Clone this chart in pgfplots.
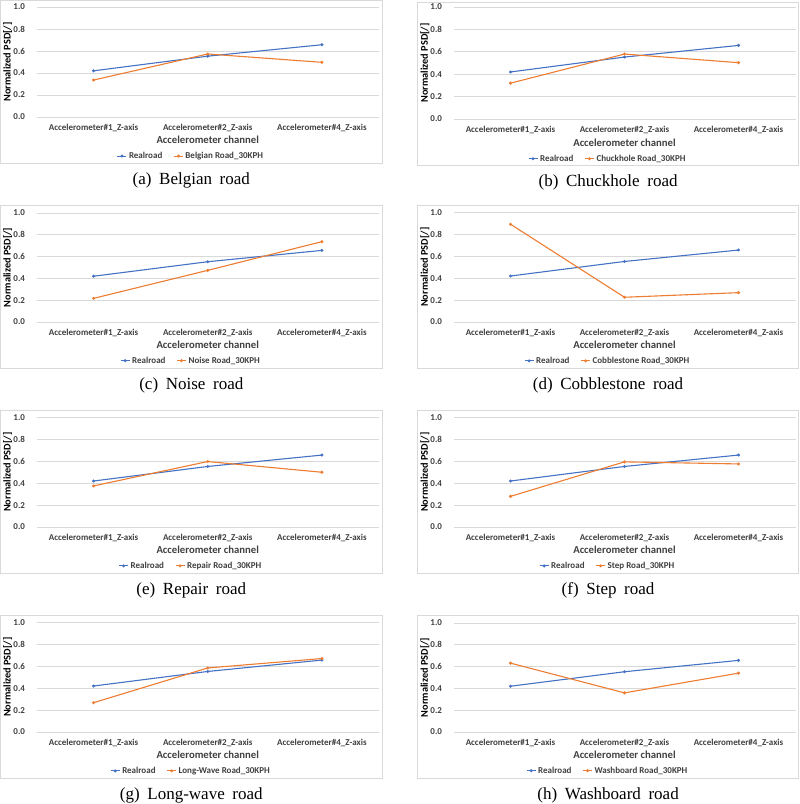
\documentclass[border=0pt]{standalone}
\usepackage{pgfplots}
\pgfplotsset{compat=1.18}
\usepackage{fontspec}
\setmainfont{Carlito}
\newfontfamily\capfont{Liberation Serif}
\definecolor{xblue}{HTML}{4472C4}
\definecolor{xorange}{HTML}{ED7D31}
\definecolor{xgrid}{HTML}{D9D9D9}
\definecolor{xtext}{HTML}{404040}
\pgfplotsset{
 psdpanel/.style={
  scale only axis, clip=false,
  xmin=-0.5, xmax=2.5, ymin=0, ymax=1,
  xtick={0,1,2},
  xticklabels={Accelerometer\#1\_Z-axis, Accelerometer\#2\_Z-axis, Accelerometer\#4\_Z-axis},
  ytick={0,0.2,0.4,0.6,0.8,1}, yticklabels={0.0,0.2,0.4,0.6,0.8,1.0},
  /pgf/number format/assume math mode=true,
  ymajorgrids, grid style={xgrid, line width=0.8pt},
  axis line style={draw=none},
  major tick length=0pt,
  tick label style={font=\fontsize{9}{10}\selectfont\bfseries, text=xtext},
  xticklabel style={anchor=base, yshift=-13.5pt},
  yticklabel style={anchor=east, xshift=-8pt},
  xlabel={Accelerometer channel},
  xlabel style={at={(axis description cs:0.5,-0.209)}, anchor=center, text=xtext, font=\fontsize{10.7}{12}\selectfont\bfseries},
  ylabel={Normalized PSD[/]},
  ylabel style={at={(axis description cs:-0.084,0.5)}, anchor=center, text=black, font=\fontsize{10.3}{12}\selectfont\bfseries},
  legend columns=2,
  legend style={at={(axis description cs:0.451,-0.355)}, anchor=center, draw=none, fill=none, text=xtext,
    font=\fontsize{9}{10}\selectfont\bfseries, inner sep=0pt,
    /tikz/every even column/.append style={column sep=9pt}},
  legend image code/.code={\draw[#1, mark repeat=2, mark phase=2] plot coordinates {(0pt,0pt) (4.5pt,0pt) (9pt,0pt)};},
 },
 ser/.style={line width=1.1pt, mark=*, mark size=0.9pt},
}
% #1 plot left, #2 y of 0.0 level, #3 width, #4 height, #5 series name, #6 coordinates, #7 letter, #8 caption
\newcommand{\panel}[8]{%
 \begin{axis}[psdpanel, at={(#1pt,-#2pt)}, anchor=south west, width=#3pt, height=#4pt]
  \addplot[xblue, ser] coordinates {(0,0.42) (1,0.553) (2,0.657)};
  \addlegendentry{Realroad}
  \addplot[xorange, ser] coordinates {#6};
  \addlegendentry{#5}
  \draw[xgrid, line width=0.8pt] ([xshift=-36pt,yshift=117pt]axis description cs:0,0) rectangle ([xshift=3pt,yshift=-46pt]axis description cs:1,0);
  \node[font=\capfont\fontsize{17}{19}\selectfont, anchor=center] at ([yshift=-63pt]axis description cs:0.452,0) {(#7)\hspace{0.45em}#8};
 \end{axis}}
\begin{document}
\begin{tikzpicture}[x=1pt,y=1pt]
\path[use as bounding box, fill=white] (0pt,0pt) rectangle (800pt,-804pt);
\panel{36.5}{117}{342.5}{110}{Belgian Road\_30KPH}{(0,0.336) (1,0.573) (2,0.497)}{a}{Belgian\hspace{0.45em}road}
\panel{453.5}{119}{342}{112}{Chuckhole Road\_30KPH}{(0,0.32) (1,0.58) (2,0.503)}{b}{Chuckhole\hspace{0.45em}road}
\panel{36.5}{322}{342.5}{109}{Noise Road\_30KPH}{(0,0.217) (1,0.474) (2,0.737)}{c}{Noise\hspace{0.45em}road}
\panel{453.5}{322}{342}{109.5}{Cobblestone Road\_30KPH}{(0,0.893) (1,0.226) (2,0.268)}{d}{Cobblestone\hspace{0.45em}road}
\panel{36.5}{527}{342.5}{109.5}{Repair Road\_30KPH}{(0,0.375) (1,0.598) (2,0.50)}{e}{Repair\hspace{0.45em}road}
\panel{453.5}{527}{342}{109.5}{Step Road\_30KPH}{(0,0.28) (1,0.595) (2,0.576)}{f}{Step\hspace{0.45em}road}
\panel{36.5}{732}{342.5}{109.5}{Long-Wave Road\_30KPH}{(0,0.268) (1,0.585) (2,0.671)}{g}{Long-wave\hspace{0.45em}road}
\panel{453.5}{732}{342}{109}{Washboard Road\_30KPH}{(0,0.632) (1,0.359) (2,0.54)}{h}{Washboard\hspace{0.45em}road}
\end{tikzpicture}
\end{document}
